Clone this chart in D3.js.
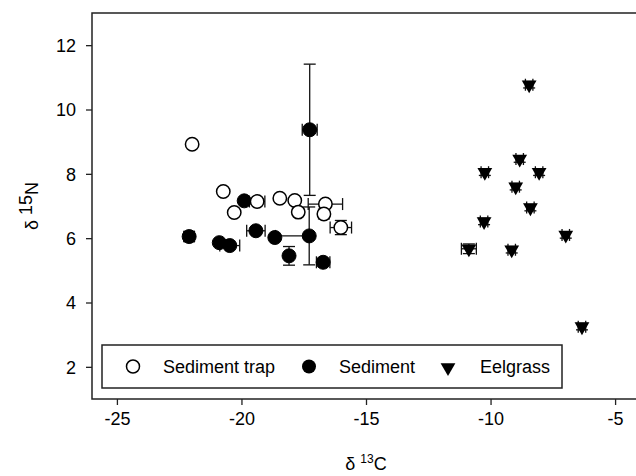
<!DOCTYPE html>
<html><head><meta charset="utf-8">
<script src="https://cdn.jsdelivr.net/npm/d3@7"></script>
<style>body{margin:0;background:#fff}svg{display:block}text{font-family:Arial,"Liberation Sans",sans-serif;fill:#000}</style>
</head><body><svg id="c" width="636" height="476"></svg>
<script>
// Sediment trap (open circles)
const trapX = [-21.98,-20.73,-20.29,-19.37,-18.46,-17.86,-17.72,-16.63,-16.69,-16.01];
const trapY = [8.92,7.45,6.80,7.14,7.24,7.17,6.81,7.06,6.75,6.33];
const trapXErr = [0,0,0,0.31,0,0,0,0.69,0,0.43];
const trapYErr = [0,0,0,0,0,0,0,0,0.15,0.22];
// Sediment (filled circles)
const sedX = [-22.10,-20.89,-20.47,-19.89,-19.42,-18.66,-17.28,-17.26,-18.09,-16.72];
const sedY = [6.05,5.86,5.77,7.16,6.23,6.02,6.07,9.37,5.45,5.25];
const sedXErrLo = [0.2,0,0.4,0,0.37,0,1.35,0.3,0,0.27];
const sedXErrHi = [0.2,0,0.4,0,0.37,0,0,0.3,0,0.27];
const sedYErr = [0.15,0,0,0,0.1,0,0.9,2.04,0.29,0];
// Eelgrass (down triangles)
const eelX = [-8.45,-8.83,-10.23,-8.05,-8.99,-8.40,-10.26,-6.98,-10.87,-9.15,-6.33];
const eelY = [10.77,8.46,8.05,8.05,7.60,6.95,6.52,6.10,5.67,5.64,3.25];
const eelXErr = [0.15,0.15,0.15,0.15,0.15,0.15,0.15,0.15,0.3,0.15,0.15];
const eelYErr = [0.1,0.1,0.1,0.1,0.1,0.1,0.1,0.1,0.15,0.1,0.1];

const xTicks = [-25,-20,-15,-10,-5];
const yTicks = [2,4,6,8,10,12];
const legendLabels = ["Sediment trap","Sediment","Eelgrass"];

const svg = d3.select("#c");
const x = d3.scaleLinear().domain([-26,-4]).range([92,640]);
const y = d3.scaleLinear().domain([1,13]).range([399,13]);

// frame
svg.append("rect").attr("x",92).attr("y",13).attr("width",548).attr("height",386)
  .attr("fill","none").attr("stroke","#222").attr("stroke-width",1.5);

// axes
const fmt = d => String(d);
const xa = svg.append("g").attr("transform","translate(0,399)")
  .call(d3.axisBottom(x).tickValues(xTicks).tickSize(6).tickPadding(7).tickFormat(fmt));
const ya = svg.append("g").attr("transform","translate(92,0)")
  .call(d3.axisLeft(y).tickValues(yTicks).tickSize(6).tickPadding(10).tickFormat(fmt));
[xa,ya].forEach(g=>{
  g.select(".domain").remove();
  g.selectAll(".tick line").attr("stroke","#222").attr("stroke-width",1.3);
  g.selectAll(".tick text").attr("font-size",18).attr("font-family","Arial, 'Liberation Sans', sans-serif").attr("fill","#000");
});
ya.selectAll(".tick text").attr("dy","0.35em");

// titles
const xt = svg.append("text").attr("x",366).attr("y",470).attr("text-anchor","middle").attr("font-size",18);
xt.append("tspan").text("δ ");
xt.append("tspan").attr("font-size",12).attr("dy",-7).text("13");
xt.append("tspan").attr("dy",7).text("C");
const yt = svg.append("text").attr("transform","translate(38,206) rotate(-90)").attr("text-anchor","middle").attr("font-size",18);
yt.append("tspan").text("δ ");
yt.append("tspan").attr("dy",-6).text("15");
yt.append("tspan").attr("dy",6).text("N");

const errG = svg.append("g").attr("stroke","#111").attr("stroke-width",1.3).attr("fill","none");
function errBar(cx, cy, xlo, xhi, ylo, yhi){
  const cap = 6;
  if (xlo>0 || xhi>0){
    const a = x(cx - xlo), b = x(cx + xhi), py = y(cy);
    errG.append("line").attr("x1",a).attr("x2",b).attr("y1",py).attr("y2",py);
    if (xlo>0) errG.append("line").attr("x1",a).attr("x2",a).attr("y1",py-cap).attr("y2",py+cap);
    if (xhi>0) errG.append("line").attr("x1",b).attr("x2",b).attr("y1",py-cap).attr("y2",py+cap);
  }
  if (ylo>0 || yhi>0){
    const a = y(cy - ylo), b = y(cy + yhi), px = x(cx);
    errG.append("line").attr("x1",px).attr("x2",px).attr("y1",a).attr("y2",b);
    if (ylo>0) errG.append("line").attr("y1",a).attr("y2",a).attr("x1",px-cap).attr("x2",px+cap);
    if (yhi>0) errG.append("line").attr("y1",b).attr("y2",b).attr("x1",px-cap).attr("x2",px+cap);
  }
}
sedX.forEach((v,i)=>errBar(v,sedY[i],sedXErrLo[i],sedXErrHi[i],sedYErr[i],sedYErr[i]));
trapX.forEach((v,i)=>errBar(v,trapY[i],trapXErr[i],trapXErr[i],trapYErr[i],trapYErr[i]));
eelX.forEach((v,i)=>errBar(v,eelY[i],eelXErr[i],eelXErr[i],eelYErr[i],eelYErr[i]));

const sed = sedX.map((v,i)=>({x:v,y:sedY[i]}));
const trap = trapX.map((v,i)=>({x:v,y:trapY[i]}));
const eel = eelX.map((v,i)=>({x:v,y:eelY[i]}));

svg.append("g").selectAll("circle").data(sed).join("circle")
  .attr("cx",d=>x(d.x)).attr("cy",d=>y(d.y)).attr("r",7).attr("fill","#000").attr("stroke","#000").attr("stroke-width",1);
svg.append("g").selectAll("circle").data(trap).join("circle")
  .attr("cx",d=>x(d.x)).attr("cy",d=>y(d.y)).attr("r",6.7).attr("fill","#fff").attr("stroke","#000").attr("stroke-width",1.5);
const tri = d3.symbol().type(d3.symbolTriangle).size(95);
svg.append("g").selectAll("path").data(eel).join("path")
  .attr("d",tri).attr("transform",d=>`translate(${x(d.x)},${y(d.y)}) rotate(180)`).attr("fill","#000");

// legend
const lg = svg.append("g");
lg.append("rect").attr("x",102).attr("y",345).attr("width",460).attr("height",43)
  .attr("fill","#fff").attr("stroke","#222").attr("stroke-width",1.5);
const ly = 366.5;
lg.append("circle").attr("cx",133).attr("cy",ly).attr("r",6.5).attr("fill","#fff").attr("stroke","#000").attr("stroke-width",1.5);
lg.append("circle").attr("cx",309).attr("cy",ly).attr("r",7).attr("fill","#000");
lg.append("path").attr("d",tri).attr("transform",`translate(448,${ly+1}) rotate(180)`).attr("fill","#000");
const lx = [163,339,480];
legendLabels.forEach((t,i)=>lg.append("text").attr("x",lx[i]).attr("y",ly).attr("dy","0.35em").attr("font-size",18).text(t));
</script></body></html>
